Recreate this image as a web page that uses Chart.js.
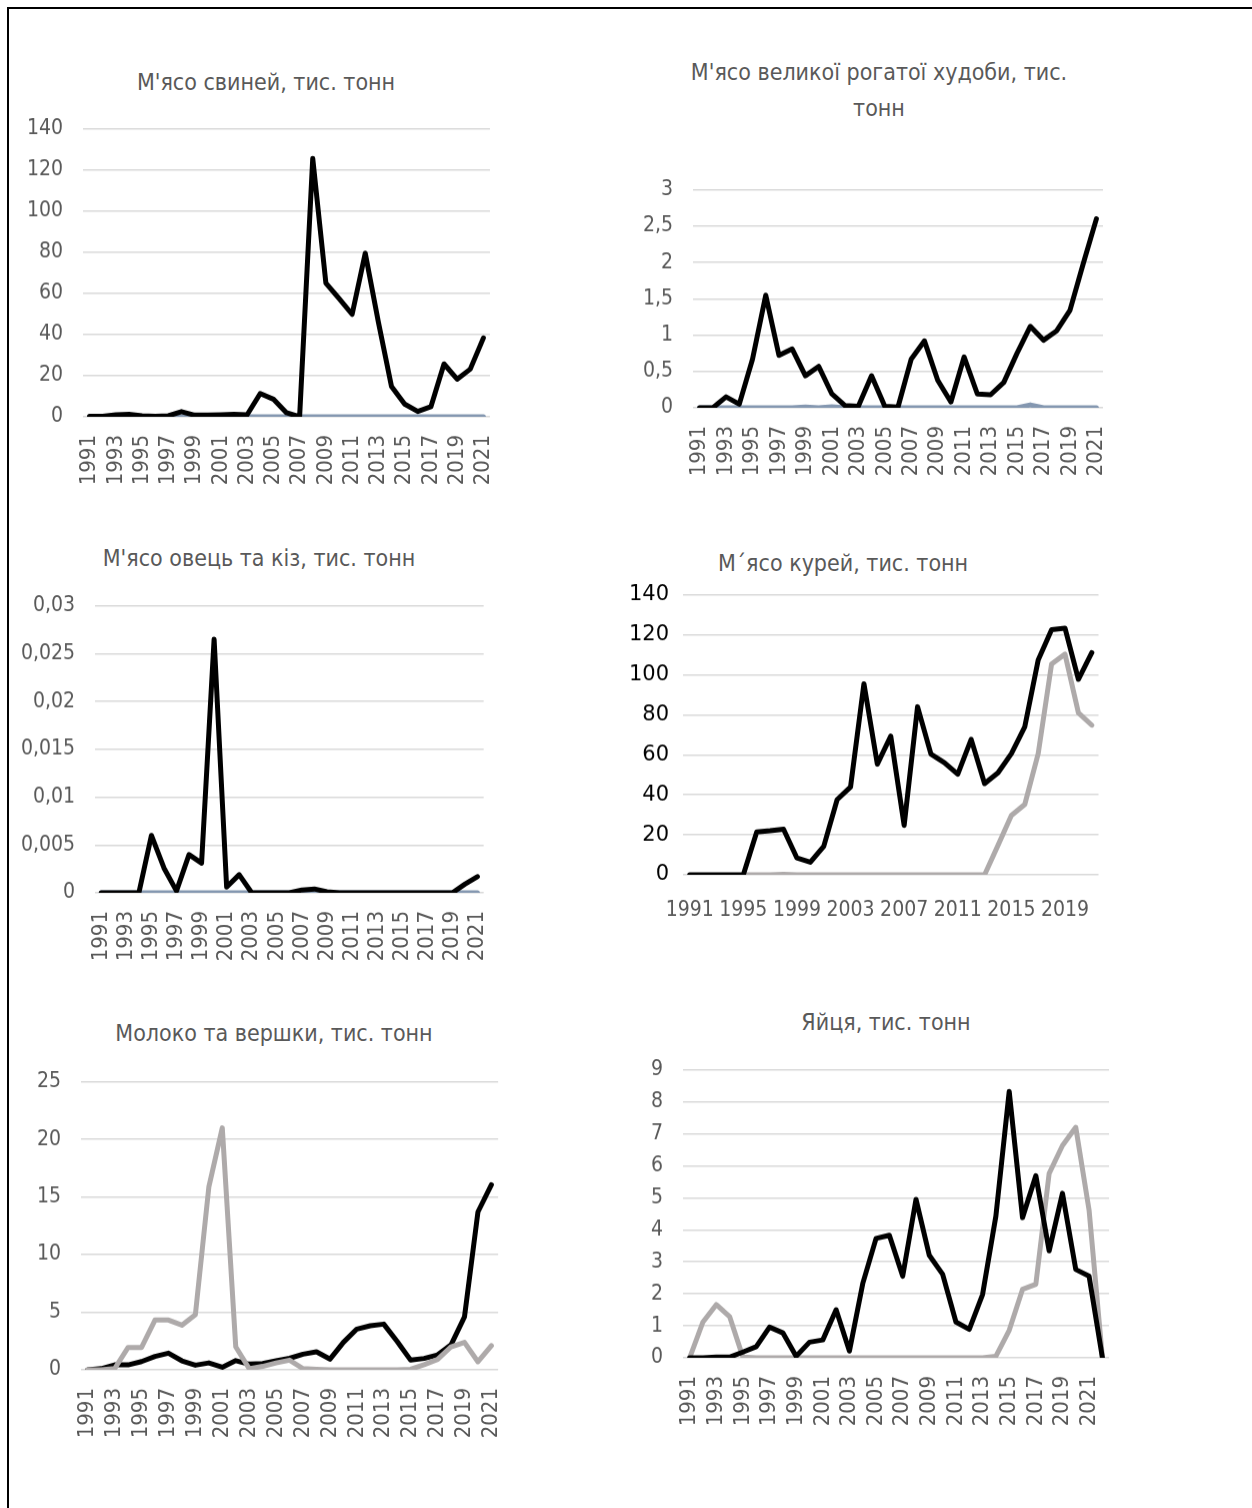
<!DOCTYPE html>
<html>
<head>
<meta charset="utf-8">
<script src="https://cdn.jsdelivr.net/npm/chart.js@4.4.1/dist/chart.umd.min.js"></script>
<style>
  html, body { margin: 0; padding: 0; background: #fff; }
  body { width: 1252px; height: 1508px; position: relative; overflow: hidden; font-family: "DejaVu Sans Condensed", "DejaVu Sans", sans-serif; }
  .frame-top { position: absolute; left: 7px; top: 7px; width: 1245px; height: 2px; background: #000; }
  .frame-left { position: absolute; left: 7px; top: 7px; width: 2px; height: 1501px; background: #000; }
  .title { position: absolute; color: #595959; font-size: 23px; white-space: nowrap; line-height: 1; transform: translate(-50%, -50%); }
  canvas { position: absolute; }
</style>
</head>
<body>
<div class="frame-top"></div>
<div class="frame-left"></div>

<div class="title" style="left:266px; top:82px">М'ясо свиней, тис. тонн</div>
<div class="title" style="left:879px; top:72px">М'ясо великої рогатої худоби, тис.</div>
<div class="title" style="left:879px; top:108px">тонн</div>
<div class="title" style="left:259px; top:558px">М'ясо овець та кіз, тис. тонн</div>
<div class="title" style="left:843px; top:563px">М´ясо курей, тис. тонн</div>
<div class="title" style="left:274px; top:1033px">Молоко та вершки, тис. тонн</div>
<div class="title" style="left:886px; top:1022px">Яйця, тис. тонн</div>

<canvas id="pork"></canvas>
<canvas id="beef"></canvas>
<canvas id="sheep"></canvas>
<canvas id="chicken"></canvas>
<canvas id="milk"></canvas>
<canvas id="eggs"></canvas>

<script>
// categories
const years = ['1991','1992','1993','1994','1995','1996','1997','1998','1999','2000',
  '2001','2002','2003','2004','2005','2006','2007','2008','2009','2010',
  '2011','2012','2013','2014','2015','2016','2017','2018','2019','2020','2021'];
const yearsEggs = ['1991','1992','1993','1994','1995','1996','1997','1998','1999','2000',
  '2001','2002','2003','2004','2005','2006','2007','2008','2009','2010',
  '2011','2012','2013','2014','2015','2016','2017','2018','2019','2020','2021','2022'];

// series values, тис. тонн
const porkSeries1 = [0.3, 0.3, 1, 1.2, 0.5, 0.3, 0.5, 2.5, 0.8, 0.8, 1, 1.2, 1, 11.3, 8.6, 2, 0,
  125.6, 65, 57.5, 49.8, 79.5, 46, 14.7, 6.2, 2.6, 4.9, 25.7, 18.3, 23.2, 38.3];
const porkSeries2 = [0, 0, 0, 0, 0, 0, 0, 0, 0, 0, 0, 0, 0, 0, 0, 0, 0, 0, 0, 0, 0, 0, 0, 0, 0, 0, 0, 0, 0, 0, 0];

const beefSeries1 = [0, 0, 0.15, 0.05, 0.67, 1.55, 0.72, 0.81, 0.44, 0.57, 0.19, 0.03, 0.02, 0.44, 0.02, 0.01,
  0.67, 0.92, 0.38, 0.08, 0.7, 0.19, 0.18, 0.35, 0.75, 1.12, 0.93, 1.06, 1.34, 1.98, 2.6];
const beefSeries2 = [0, 0, 0, 0, 0, 0, 0, 0, 0.01, 0, 0.015, 0, 0, 0, 0, 0, 0, 0, 0, 0, 0, 0, 0, 0, 0, 0.04, 0, 0, 0, 0, 0];

const sheepSeries1 = [0, 0, 0, 0, 0.006, 0.0026, 0.0002, 0.004, 0.0031, 0.0265, 0.0006, 0.0019, 0, 0, 0, 0,
  0.0003, 0.0004, 0.0001, 0, 0, 0, 0, 0, 0, 0, 0, 0, 0, 0.0009, 0.0017];
const sheepSeries2 = [0, 0, 0, 0, 0, 0, 0, 0, 0, 0, 0, 0, 0, 0, 0, 0, 0, 0, 0, 0, 0, 0, 0, 0, 0, 0, 0, 0, 0, 0, 0];

const chickenSeries1 = [0, 0, 0, 0, 0, 21.4, 22, 22.8, 8.4, 6.3, 14.2, 37.6, 43.9, 95.5, 55.3, 69.3, 24.7,
  84, 60.3, 56.1, 50.3, 67.7, 45.6, 51, 60.6, 74, 107.4, 122.5, 123.3, 97.7, 111];
const chickenSeries2 = [null, null, null, null, 0, 0, 0, 0.3, 0, 0, 0, 0, 0, 0, 0, 0, 0, 0, 0, 0, 0, 0, 0,
  14.7, 29.7, 35.2, 60.6, 105.4, 110.3, 81, 74.8];

const milkSeries1 = [0, 0.1, 0.43, 0.43, 0.72, 1.16, 1.45, 0.78, 0.4, 0.6, 0.22, 0.8, 0.49, 0.55, 0.78, 1.0,
  1.36, 1.57, 0.93, 2.38, 3.54, 3.83, 3.97, 2.46, 0.84, 0.99, 1.3, 2.17, 4.6, 13.7, 16.06];
const milkSeries2 = [0, 0, 0.1, 1.94, 1.94, 4.32, 4.32, 3.88, 4.78, 15.86, 21, 2.0, 0.1, 0.3, 0.6, 0.84,
  0.1, 0.05, 0, 0, 0, 0, 0, 0, 0.05, 0.45, 0.9, 2.0, 2.38, 0.7, 2.09];

const eggsSeries1 = [0, 0, 0.02, 0.02, 0.18, 0.35, 0.96, 0.78, 0.05, 0.49, 0.56, 1.5, 0.21, 2.32, 3.73, 3.83,
  2.55, 4.95, 3.2, 2.61, 1.12, 0.89, 1.98, 4.43, 8.32, 4.38, 5.69, 3.34, 5.14, 2.76, 2.55, 0];
const eggsSeries2 = [0, 1.12, 1.66, 1.29, 0.02, 0, 0, 0, 0, 0, 0, 0, 0, 0, 0, 0, 0, 0, 0, 0, 0, 0, 0,
  0.05, 0.86, 2.14, 2.3, 5.76, 6.63, 7.2, 4.61, 0];

// y tick values
const porkTicks = [0, 20, 40, 60, 80, 100, 120, 140];
const beefTicks = [0, 0.5, 1, 1.5, 2, 2.5, 3];
const sheepTicks = [0, 0.005, 0.01, 0.015, 0.02, 0.025, 0.03];
const chickenTicks = [0, 20, 40, 60, 80, 100, 120, 140];
const milkTicks = [0, 5, 10, 15, 20, 25];
const eggsTicks = [0, 1, 2, 3, 4, 5, 6, 7, 8, 9];

const BLACK = '#000000';
const GREY = '#AEAAAA';
const SLATE = '#8497B0';
const FAMILY = '"DejaVu Sans Condensed", "DejaVu Sans", sans-serif';
const Y_FONT = { family: FAMILY, size: 21 };
const X_FONT = { family: FAMILY, size: 22 };

const AXIS_W = 80, PAD_TOP = 15, PAD_RIGHT = 12, AXIS_H = 75;

function fmt(v) {
  return String(+v.toFixed(4)).replace('.', ',');
}

function buildConfig(labels, sets, ticks, opts) {
  const every = opts.every || 2;
  const horizontal = !!opts.horizontal;
  return {
    type: 'line',
    data: {
      labels: labels,
      datasets: sets.map(s => ({
        data: s.data,
        borderColor: s.color,
        backgroundColor: s.color,
        borderWidth: 5,
        order: s.order,
        spanGaps: false
      }))
    },
    options: {
      responsive: false,
      animation: false,
      devicePixelRatio: 1,
      layout: { padding: { top: PAD_TOP, right: PAD_RIGHT, left: 0, bottom: 0 } },
      elements: {
        point: { radius: 0, hoverRadius: 0 },
        line: { tension: 0, borderJoinStyle: 'round', borderCapStyle: 'round' }
      },
      plugins: { legend: { display: false }, tooltip: { enabled: false }, title: { display: false } },
      scales: {
        x: {
          type: 'category',
          offset: true,
          grid: { display: false, drawTicks: false },
          border: { display: false },
          ticks: {
            autoSkip: false,
            minRotation: horizontal ? 0 : 90,
            maxRotation: horizontal ? 0 : 90,
            padding: horizontal ? 23 : 18,
            color: '#595959',
            font: horizontal ? Y_FONT : X_FONT,
            callback: function (val, i) { return i % every === 0 ? this.getLabelForValue(val) : ''; }
          },
          afterFit: s => { s.height = AXIS_H; }
        },
        y: {
          min: ticks[0],
          max: ticks[ticks.length - 1],
          grid: { color: '#D9D9D9', lineWidth: 1.5, drawTicks: false },
          border: { display: false },
          ticks: {
            padding: opts.yPad || 20,
            color: opts.yColor || '#595959',
            font: opts.yFont || Y_FONT,
            callback: v => fmt(v)
          },
          afterBuildTicks: s => { s.ticks = ticks.map(v => ({ value: v })); },
          afterFit: s => { s.width = AXIS_W; }
        }
      }
    }
  };
}

// box = wanted plot area on the page; the canvas is grown until the chart area lands on it
function makeChart(id, box, labels, sets, ticks, opts) {
  opts = opts || {};
  const canvas = document.getElementById(id);
  let ext = { l: 0, t: 0, r: 0, b: 0 };
  let chart = null;
  for (let pass = 0; pass < 3; pass++) {
    const w = AXIS_W + (box.R - box.L) + PAD_RIGHT + ext.l + ext.r;
    const h = PAD_TOP + (box.B - box.T) + AXIS_H + ext.t + ext.b;
    const left = box.L - AXIS_W - ext.l;
    const top = box.T - PAD_TOP - ext.t;
    if (chart) chart.destroy();
    canvas.width = w; canvas.height = h;
    canvas.style.width = w + 'px'; canvas.style.height = h + 'px';
    canvas.style.left = left + 'px';
    canvas.style.top = top + 'px';
    chart = new Chart(canvas, buildConfig(labels, sets, ticks, opts));
    const ca = chart.chartArea;
    const gl = (left + ca.left) - box.L, gt = (top + ca.top) - box.T;
    const gr = box.R - (left + ca.right), gb = box.B - (top + ca.bottom);
    if (Math.abs(gl) < 0.5 && Math.abs(gt) < 0.5 && Math.abs(gr) < 0.5 && Math.abs(gb) < 0.5) break;
    ext = { l: ext.l + gl, t: ext.t + gt, r: ext.r + gr, b: ext.b + gb };
  }
  return chart;
}

makeChart('pork', { L: 83, R: 490, T: 129, B: 416 }, years, [
  { data: porkSeries1, color: BLACK, order: 0 },
  { data: porkSeries2, color: SLATE, order: 1 }
], porkTicks);

makeChart('beef', { L: 693, R: 1103, T: 190, B: 407 }, years, [
  { data: beefSeries1, color: BLACK, order: 0 },
  { data: beefSeries2, color: SLATE, order: 1 }
], beefTicks);

makeChart('sheep', { L: 95, R: 483, T: 606, B: 892 }, years, [
  { data: sheepSeries1, color: BLACK, order: 0 },
  { data: sheepSeries2, color: SLATE, order: 1 }
], sheepTicks);

makeChart('chicken', { L: 683, R: 1098, T: 595, B: 874 }, years, [
  { data: chickenSeries1, color: BLACK, order: 0 },
  { data: chickenSeries2, color: GREY, order: 1 }
], chickenTicks, {
  every: 4, horizontal: true, yPad: 14, yColor: '#000000',
  yFont: { family: '"DejaVu Sans", sans-serif', size: 21 }
});

makeChart('milk', { L: 81, R: 498, T: 1082, B: 1369 }, years, [
  { data: milkSeries1, color: BLACK, order: 1 },
  { data: milkSeries2, color: GREY, order: 0 }
], milkTicks);

makeChart('eggs', { L: 683, R: 1109, T: 1070, B: 1357 }, yearsEggs, [
  { data: eggsSeries1, color: BLACK, order: 0 },
  { data: eggsSeries2, color: GREY, order: 1 }
], eggsTicks);
</script>
</body>
</html>
